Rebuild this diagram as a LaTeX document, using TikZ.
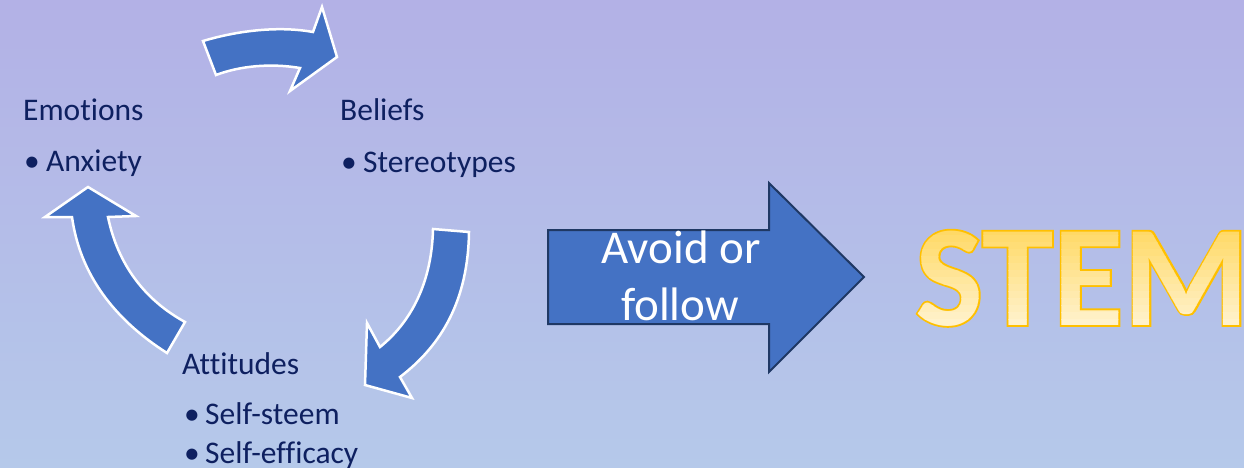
\documentclass[tikz,border=0pt]{standalone}
\usepackage{fontspec}
\setmainfont{Carlito}[Ligatures=NoCommon]
\newfontface\stemlineface{Carlito Bold}[FakeBold=2.5]
\newfontface\stemfillface{Carlito Bold}

\definecolor{bgtop}{RGB}{179,177,230}
\definecolor{bgbottom}{RGB}{181,201,234}
\definecolor{arrowblue}{RGB}{68,114,196}
\definecolor{arrowedge}{RGB}{31,56,100}
\definecolor{labelnavy}{RGB}{14,32,96}
\definecolor{stemedge}{RGB}{255,192,0}
\definecolor{stemtop}{RGB}{255,217,102}
\definecolor{stembottom}{RGB}{255,242,204}

\newcommand{\labelfont}{\fontsize{31.5}{38}\selectfont}
\newcommand{\stemsize}{\fontsize{144}{160}\selectfont}

\tikzset{
  cyclearrow/.style={fill=arrowblue, draw=white, line width=2.5pt, line join=miter},
  bigarrow/.style={fill=arrowblue, draw=arrowedge, line width=2pt, line join=miter},
  label/.style={anchor=base west, inner sep=0pt, font=\labelfont, text=labelnavy},
  arrowtext/.style={anchor=base, inner sep=0pt, font=\fontsize{47}{57}\selectfont, text=white},
  stembox/.style={anchor=base west, inner sep=0pt},
}

\begin{document}
\begin{tikzpicture}[x=1pt, y=-1pt]
  % background
  \shade[top color=bgtop, bottom color=bgbottom] (0,0) rectangle (1244,468);
  \useasboundingbox (0,0) rectangle (1244,468);

  % cycle: top arrow (Emotions -> Beliefs)
  \path[cyclearrow] (203,41) .. controls (240,30) and (280,26) .. (313,32)
    -- (322,7) -- (337,57) -- (290,91) -- (300,68)
    .. controls (270,63) and (240,66) .. (216,75) -- cycle;

  % cycle: right arrow (Beliefs -> Attitudes)
  \path[cyclearrow] (433,229) -- (469,232)
    .. controls (468,300) and (442,345) .. (400,377)
    -- (412,398) -- (365,385) -- (367,323) -- (380,347)
    .. controls (416,318) and (432,275) .. (433,229) -- cycle;

  % cycle: left arrow (Attitudes -> Emotions)
  \path[cyclearrow] (88,187) -- (136,216) -- (108,217)
    .. controls (118,265) and (145,300) .. (185,322)
    -- (167,353) .. controls (115,320) and (80,275) .. (72,217)
    -- (45,217) -- cycle;

  % labels of the cycle
  \node[label] (emotions) at (23,121) {Emotions};
  \node[label] (anxietyb) at (24,171) {•};
  \node[label] (anxiety) at (46,171) {Anxiety};

  \node[label] (beliefs) at (340,121) {Beliefs};
  \node[label] (stereob) at (341,172) {•};
  \node[label] (stereo) at (363,172) {Stereotypes};

  \node[label] (attitudes) at (182,374) {Attitudes};
  \node[label] (steemb) at (184,424) {•};
  \node[label] (steem) at (205,424) {Self-steem};
  \node[label] (efficb) at (184,463) {•};
  \node[label] (effic) at (205,463) {Self-efficacy};

  % block arrow towards STEM
  \path[bigarrow] (548,230) -- (769,230) -- (769,183) -- (864,277)
    -- (769,372) -- (769,324) -- (548,324) -- cycle;
  \node[arrowtext] (avoid) at (681,263) {Avoid or};
  \node[arrowtext] (follow) at (680,320) {follow};

  % STEM: stroked outline underneath, gradient fill built from clipped bands
  \node[stembox, text=stemedge, font=\stemlineface\stemsize] (stemline) at (915,325) {STEM};
  \foreach \k in {0,...,13} {
    \pgfmathsetmacro{\mix}{100-100*\k/13}
    \begin{scope}
      \clip (900,{228+7*\k}) rectangle (1244,{228+7*(\k+1)+0.5});
      \node[stembox, text=stemtop!\mix!stembottom, font=\stemfillface\stemsize]
        (stemband\k) at (915,325) {STEM};
    \end{scope}
  }
\end{tikzpicture}
\end{document}
